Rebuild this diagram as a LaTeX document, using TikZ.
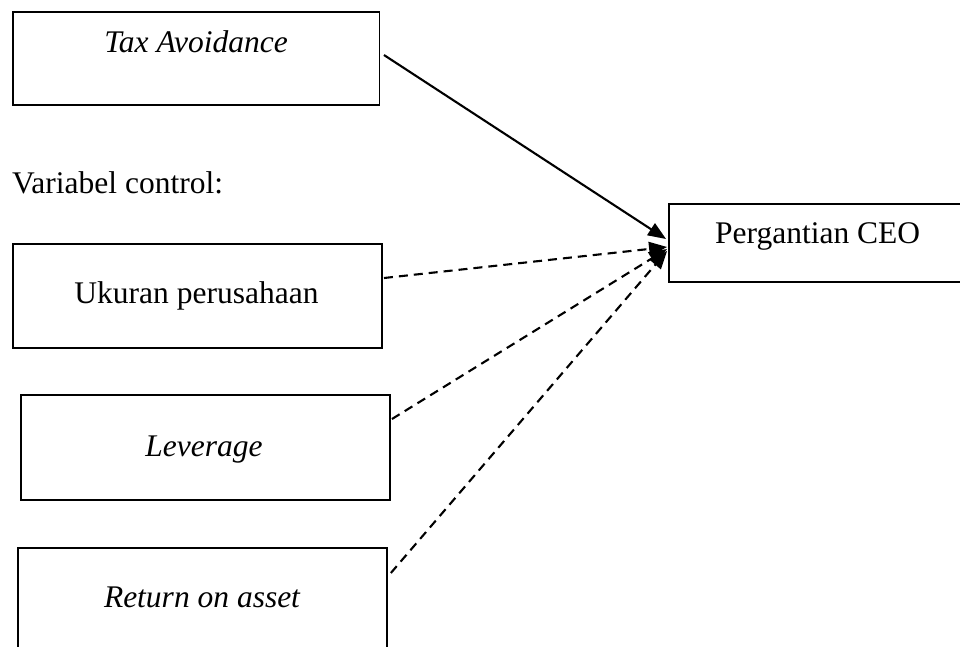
\documentclass[tikz,border=0pt]{standalone}
\usepackage{fontspec}
\setmainfont{Liberation Serif}
\usetikzlibrary{arrows.meta}
\begin{document}
\begin{tikzpicture}[x=1pt,y=-1pt,
  box/.style={draw=black, line width=1.9pt, inner sep=0pt, rectangle},
  lbl/.style={inner sep=0pt, anchor=base, font=\fontsize{31.5}{38}\selectfont},
  solidarrow/.style={line width=2.1pt, -{Triangle[length=18pt,width=14pt]}},
  dasharrow/.style={line width=2.1pt, dash pattern=on 9pt off 6pt, -{Triangle[length=18pt,width=14pt]}}
]
\useasboundingbox (0,0) rectangle (960,646);
\clip (0,0) rectangle (960,646);
\fill[white] (0,0) rectangle (960,646);
% boxes
\node[box, minimum width=366.8pt, minimum height=93pt] (tax) at (196.1,58.5) {};
\node[box, minimum width=369pt, minimum height=104pt] (uk) at (197.2,296) {};
\node[box, minimum width=369pt, minimum height=105pt] (lev) at (205.5,447.5) {};
\node[box, minimum width=369pt, minimum height=152pt] (roa) at (202.9,624) {};
\node[box, minimum width=311pt, minimum height=78pt] (ceo) at (824.5,243) {};
% texts
\node[lbl] (ttax) at (196,52) {\itshape Tax Avoidance};
\node[lbl, anchor=base west] (tvar) at (12,193) {Variabel control:};
\node[lbl] (tuk) at (196.5,303) {Ukuran perusahaan};
\node[lbl] (tlev) at (204,456) {\itshape Leverage};
\node[lbl] (troa) at (202,607) {\itshape Return on asset};
\node[lbl, anchor=base west] (tceo) at (715,243) {Pergantian CEO};
% connectors
\draw[solidarrow] ([xshift=3.5pt,yshift=3.5pt]tax.east) -- ([xshift=-2pt,yshift=4pt]ceo.west);
\draw[dasharrow] ([xshift=1.3pt,yshift=18pt]uk.east) -- ([xshift=-1pt,yshift=-4pt]ceo.west);
\draw[dasharrow] ([xshift=1pt,yshift=28.5pt]lev.east) -- ([xshift=-1pt,yshift=-6pt]ceo.west);
\draw[dasharrow] ([xshift=2.5pt,yshift=51pt]roa.east) -- ([xshift=-1pt,yshift=-8pt]ceo.west);
\end{tikzpicture}
\end{document}
